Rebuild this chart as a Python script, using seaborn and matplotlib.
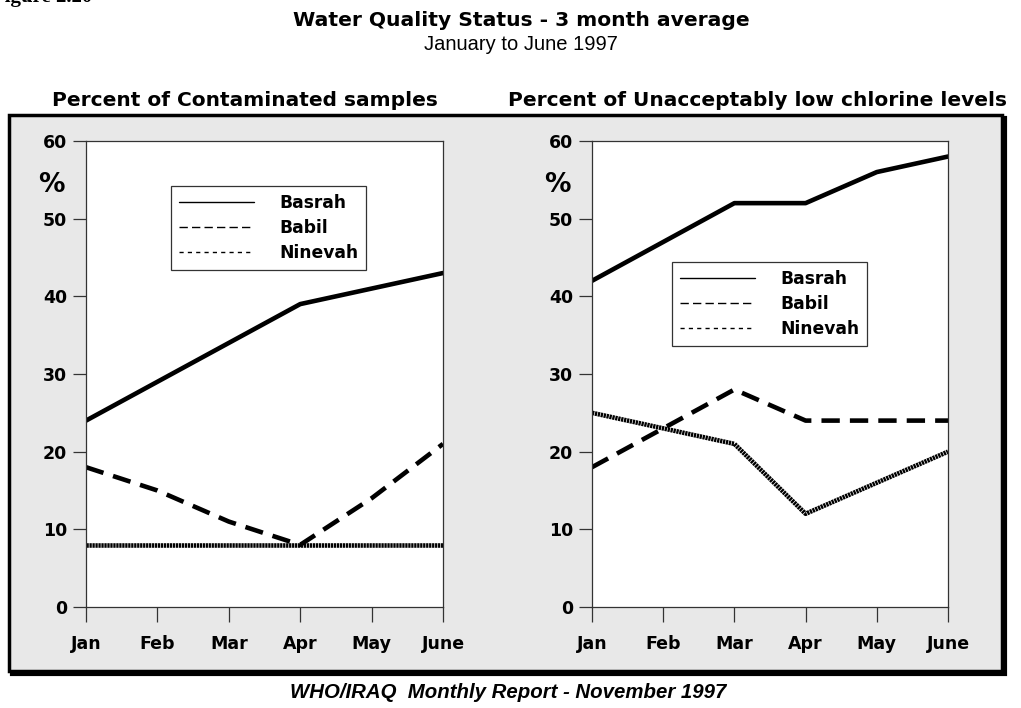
import matplotlib
matplotlib.use("Agg")
import matplotlib.pyplot as plt
import seaborn as sns
import pandas as pd
from matplotlib.patches import Rectangle
from matplotlib.lines import Line2D

months = ["Jan", "Feb", "Mar", "Apr", "May", "June"]
regions = ["Basrah", "Babil", "Ninevah"]

contam_basrah = [24, 29, 34, 39, 41, 43]
contam_babil = [18, 15, 11, 8, 14, 21]
contam_ninevah = [8, 8, 8, 8, 8, 8]

chlor_basrah = [42, 47, 52, 52, 56, 58]
chlor_babil = [18, 23, 28, 24, 24, 24]
chlor_ninevah = [25, 23, 21, 12, 16, 20]

y_ticks = [0, 10, 20, 30, 40, 50, 60]


def to_long(b, bb, n):
    rows = []
    for reg, vals in zip(regions, [b, bb, n]):
        for i, v in enumerate(vals):
            rows.append({"month": i, "region": reg, "value": v})
    return pd.DataFrame(rows)


df_left = to_long(contam_basrah, contam_babil, contam_ninevah)
df_right = to_long(chlor_basrah, chlor_babil, chlor_ninevah)

sns.set_theme(style="white")
plt.rcParams["font.family"] = ["DejaVu Sans"]
plt.rcParams["text.color"] = "black"
plt.rcParams["xtick.color"] = "black"
plt.rcParams["ytick.color"] = "black"
plt.rcParams["xtick.labelcolor"] = "black"
plt.rcParams["ytick.labelcolor"] = "black"

W, H = 1021, 708
fig = plt.figure(figsize=(W / 100, H / 100), dpi=100)
fig.patch.set_facecolor("white")


def fx(px):
    return px / W


def fy(py):
    return 1 - py / H


# gray panel box with shadow
shadow = Rectangle((fx(12), fy(674)), fx(1005) - fx(12), fy(118) - fy(674),
                   transform=fig.transFigure, facecolor="black", edgecolor="black",
                   linewidth=3, zorder=-2)
fig.patches.append(shadow)
box = Rectangle((fx(9), fy(671)), fx(1002) - fx(9), fy(115) - fy(671),
                transform=fig.transFigure, facecolor="#e8e8e8", edgecolor="black",
                linewidth=2.5, zorder=-1)
fig.patches.append(box)

dashes = {"Basrah": "", "Babil": (4, 2.2), "Ninevah": (0.5, 0.15)}

ax_l = fig.add_axes([fx(86), fy(607), fx(443) - fx(86), fy(141) - fy(607)])
ax_r = fig.add_axes([fx(592), fy(607), fx(948) - fx(592), fy(141) - fy(607)])

legend_pos = {0: (fx(171), fy(186)), 1: (fx(672), fy(262))}

for k, (ax, df) in enumerate([(ax_l, df_left), (ax_r, df_right)]):
    ax.set_facecolor("white")
    sns.lineplot(data=df, x="month", y="value", style="region", style_order=regions,
                 dashes=dashes, color="black", linewidth=3.3, legend=False, ax=ax)
    ax.set_xlim(0, 5)
    ax.set_ylim(0, 60)
    ax.set_xticks(range(len(months)))
    ax.set_xticklabels(months, fontweight="bold", fontsize=12.5)
    ax.set_yticks(y_ticks)
    ax.set_yticklabels([str(t) for t in y_ticks], fontweight="bold", fontsize=12.5)
    ax.set_xlabel("")
    ax.set_ylabel("")
    for s in ax.spines.values():
        s.set_color("#333333")
        s.set_linewidth(0.9)
        s.set_visible(True)
    ax.tick_params(axis="x", direction="out", length=11, width=0.9, color="#333333",
                   pad=9, bottom=True)
    ax.tick_params(axis="y", direction="out", length=9.5, width=0.9, color="#333333",
                   pad=4, left=True)
    ax.text(-0.135, 0.905, "%", transform=ax.transAxes, fontsize=19, fontweight="bold",
            ha="left", va="center")
    handles = [Line2D([], [], color="black", linewidth=1.0, linestyle=ls)
               for ls in ["-", (0, (6, 3)), (0, (3, 3))]]
    leg = ax.legend(handles, regions, loc="upper left",
                    bbox_to_anchor=legend_pos[k], bbox_transform=fig.transFigure,
                    frameon=True, fancybox=False, framealpha=1, edgecolor="#333333",
                    handlelength=4.4, handletextpad=1.5, labelspacing=0.42,
                    borderpad=0.45, borderaxespad=0,
                    prop={"weight": "bold", "size": 12.3})
    leg.get_frame().set_linewidth(0.9)
    for t in leg.get_texts():
        t.set_color("black")

fig.text(fx(245), fy(101), "Percent of Contaminated samples", ha="center", va="center",
         fontsize=14.5, fontweight="bold")
fig.text(fx(508), fy(101), "Percent of Unacceptably low chlorine levels", ha="left",
         va="center", fontsize=14.5, fontweight="bold")

fig.text(fx(521), fy(20), "Water Quality Status - 3 month average", ha="center",
         va="center", fontsize=14.6, fontweight="bold")
fig.text(fx(521), fy(45), "January to June 1997", ha="center", va="center",
         fontsize=14.5, family=["Liberation Sans", "DejaVu Sans"])

fig.text(fx(508), fy(692), "WHO/IRAQ  Monthly Report - November 1997", ha="center",
         va="center", fontsize=14.7, fontweight="bold", fontstyle="italic",
         family=["Liberation Sans", "DejaVu Sans"])

fig.text(fx(-8), fy(-3), "Figure 2.20", ha="left", va="center", fontsize=15,
         fontweight="bold", family=["Liberation Serif", "DejaVu Serif"])

fig.savefig("out.png", dpi=100, facecolor="white")
